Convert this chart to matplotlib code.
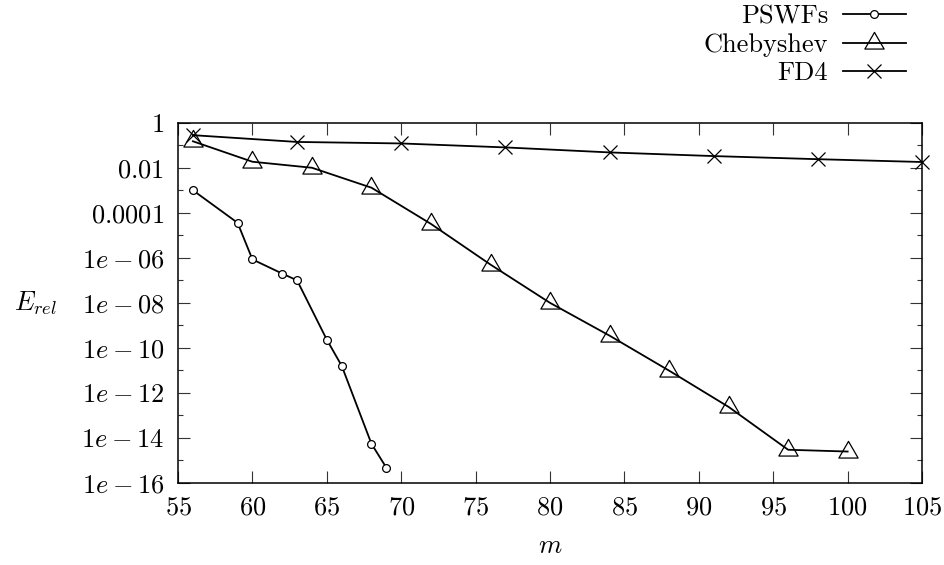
import numpy as np
import matplotlib
matplotlib.use("Agg")
import matplotlib.pyplot as plt
from matplotlib.path import Path
from matplotlib.ticker import FixedLocator, NullLocator, NullFormatter

plt.rcParams['font.family'] = ['cmr10', 'DejaVu Serif']
plt.rcParams['mathtext.fontset'] = 'cm'
plt.rcParams['axes.formatter.use_mathtext'] = True

# ---- data ----
pswf_m = [56, 59, 60, 62, 63, 65, 66, 68, 69]
pswf_err = [1e-3, 3.6e-5, 8.5e-7, 2e-7, 1e-7, 2.3e-10, 1.6e-11, 5.5e-15, 4.8e-16]

cheb_m = [56, 60, 64, 68, 72, 76, 80, 84, 88, 92, 96, 100]
cheb_err = [0.15, 0.0185, 0.01, 1.3e-3, 3.2e-5, 5e-7, 1e-8, 3.5e-10, 9.8e-12,
            2.4e-13, 3e-15, 2.5e-15]

fd4_m = [56, 63, 70, 77, 84, 91, 98, 105]
fd4_err = [0.28, 0.14, 0.12, 0.08, 0.048, 0.033, 0.024, 0.018]

series_labels = ["PSWFs", "Chebyshev", "FD4"]
x_ticks = [55, 60, 65, 70, 75, 80, 85, 90, 95, 100, 105]
y_exps = [0, -2, -4, -6, -8, -10, -12, -14, -16]
y_tick_labels = ["1", "0.01", "0.0001", "1e-06", "1e-08", "1e-10", "1e-12",
                 "1e-14", "1e-16"]

FS = 19

fig = plt.figure(figsize=(9.45, 5.65), dpi=100)
ax = fig.add_axes([0.1884, 0.1451, 0.9757 - 0.1884, 0.7828 - 0.1451])

tri = Path([(0, 1), (-np.sqrt(3) / 2, -0.5), (np.sqrt(3) / 2, -0.5), (0, 1)],
           [Path.MOVETO, Path.LINETO, Path.LINETO, Path.CLOSEPOLY])

lw = 1.3
ax.plot(pswf_m, pswf_err, color='black', lw=lw, marker='o', ms=5.6,
        mfc='white', mec='black', mew=0.9, label=series_labels[0], clip_on=False)
ax.plot(cheb_m, cheb_err, color='black', lw=lw, marker=tri, ms=16,
        mfc='none', mec='black', mew=0.9, label=series_labels[1], clip_on=False)
ax.plot(fd4_m, fd4_err, color='black', lw=lw, marker='x', ms=9.5,
        mec='black', mew=0.9, label=series_labels[2], clip_on=False)

ax.set_yscale('log')
ax.set_xlim(55, 105)
ax.set_ylim(1e-16, 1)

ax.xaxis.set_major_locator(FixedLocator(x_ticks))
ax.set_xticklabels([f"${v}$" for v in x_ticks])
ax.xaxis.set_minor_locator(NullLocator())

ax.yaxis.set_major_locator(FixedLocator([10.0 ** e for e in y_exps]))
ax.set_yticklabels([f"${s}$" for s in y_tick_labels])
ax.yaxis.set_minor_locator(FixedLocator([10.0 ** (e - 1) for e in y_exps[:-1]]))
ax.yaxis.set_minor_formatter(NullFormatter())

ax.tick_params(which='both', direction='in', top=True, right=True,
               labelsize=FS, width=0.8, color='#333333')
ax.tick_params(which='major', length=8.5)
ax.tick_params(which='minor', length=3.8)
ax.tick_params(axis='x', pad=9)
ax.tick_params(axis='y', pad=10)

for s in ax.spines.values():
    s.set_linewidth(1.1)

ax.set_xlabel(r"$m$", fontsize=FS, va='center')
ax.xaxis.set_label_coords(0.5, -0.175)
ax.set_ylabel(r"$E_{rel}$", fontsize=FS, rotation=0, ha='center', va='center')
ax.yaxis.set_label_coords(-0.192, 0.5)

leg = ax.legend(loc='upper right', bbox_to_anchor=(906 / 945, 1 - 5 / 565),
                bbox_transform=fig.transFigure, frameon=False, fontsize=FS,
                markerfirst=False, handlelength=2.4, handletextpad=0.55,
                labelspacing=0.17, borderpad=0, borderaxespad=0)

fig.savefig("out.png", dpi=100)
